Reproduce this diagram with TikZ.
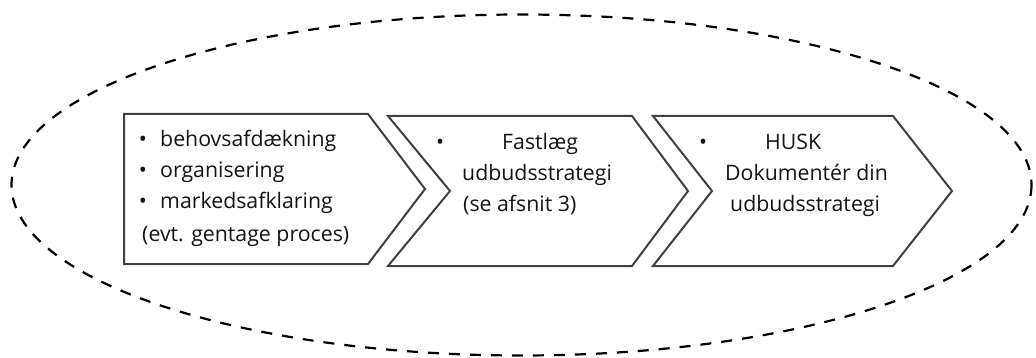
\documentclass[tikz,border=0pt]{standalone}
\usepackage{fontspec}
\setmainfont{Open Sans}
\begin{document}
\begin{tikzpicture}[x=1pt,y=-1pt,
  chev/.style={draw=black!75,line width=2pt,line join=miter,fill=white},
  txt/.style={anchor=base west,inner sep=0pt,font=\fontsize{21.3}{31}\selectfont,text=black!92},
  bul/.style={anchor=base,inner sep=0pt,font=\fontsize{21.3}{31}\selectfont,text=black!92}]
\useasboundingbox (0,0) rectangle (1036,358);
\draw[line width=2.2pt,dash pattern=on 11pt off 10pt] (521.5,185) ellipse [x radius=510,y radius=170.5];
% chevrons
\draw[chev] (124,114) -- (368,114) -- (425,189) -- (368,264) -- (124,264) -- cycle;
\draw[chev] (388,116) -- (632,116) -- (688,191) -- (632,266) -- (388,266) -- (450,191) -- cycle;
\draw[chev] (653,116) -- (893,116) -- (952,191) -- (893,266) -- (653,266) -- (712,191) -- cycle;
% box 1 text
\node[bul] (b1a) at (143,147) {•};
\node[txt] (t1a) at (160,147) {behovsafdækning};
\node[bul] (b1b) at (143,178) {•};
\node[txt] (t1b) at (160,178) {organisering};
\node[bul] (b1c) at (143,209) {•};
\node[txt] (t1c) at (160,209) {markedsafklaring};
\node[txt] (t1d) at (142,241) {(evt. gentage proces)};
% box 2 text
\node[bul] (b2) at (440,150) {•};
\node[txt] (t2a) at (502,150) {Fastlæg};
\node[txt] (t2b) at (462,181) {udbudsstrategi};
\node[txt] (t2c) at (463,212) {(se afsnit 3)};
% box 3 text
\node[bul] (b3) at (703,150) {•};
\node[txt] (t3a) at (765,150) {HUSK};
\node[txt] (t3b) at (725,181) {Dokumentér din};
\node[txt] (t3c) at (730,212) {udbudsstrategi};
\end{tikzpicture}
\end{document}
